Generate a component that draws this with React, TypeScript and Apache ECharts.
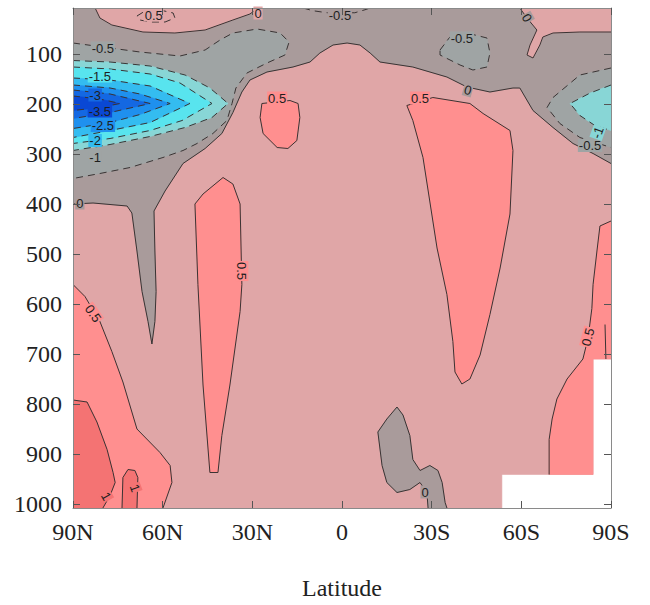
import React, { useEffect, useRef } from "react";
import * as echarts from "echarts";

// ---- axes ----
const latTicks = [-90, -60, -30, 0, 30, 60, 90];
const pressureTicks = [100, 200, 300, 400, 500, 600, 700, 800, 900, 1000];
const P_TOP = 8;
const P_BOT = 1008;

// ---- data coverage (outside it: missing data, left white) ----
const dataRegion = [[-90,P_TOP],[90,P_TOP],[90,710],[84,710],[84,941],[53.5,941],[53.5,P_BOT],[-90,P_BOT]];

// ---- contour lines, [latitude (neg = N, pos = S), pressure hPa] ----
// lower boundary (0 contour) of the upper negative band
const zeroBandLower = [[-90,400],[-83.3,398],[-71.9,404],[-70.3,418],[-68.6,494],[-66.9,575],[-64.9,635],[-63.6,680],[-62.6,635],[-62.2,575],[-62.6,494],[-62.9,414],[-59.2,374],[-53.2,319],[-45.8,289],[-40.2,259],[-36.5,217],[-33.5,176],[-30.8,152],[-25.1,136],[-16.4,126],[-10.7,116],[-7.4,98],[-3,82],[1.7,78],[6,82],[9.4,98],[12.7,116],[23.7,126],[35.1,146],[41.8,166],[49.5,176],[57.2,168],[59.5,168],[63.9,213],[70.6,247],[77.3,279],[84,299],[90,319]];
const topLeftPos = [[-82.6,8],[-81,28],[-77,42],[-66.6,56],[-55.9,58],[-45.8,52],[-36.5,32],[-30.8,20],[-28.1,8]];
const topRightPos = [[59.5,8],[61.9,28],[65.2,52],[62.9,82],[61.9,102],[63.9,108],[66.2,82],[67.2,66],[70.6,58],[79.6,56],[90,56]];
const topCenterDash = [[-13,8],[-9.7,13.5],[-5,17.5],[4.3,17.5],[7.7,11.5],[9.4,8]];
const topLeftOval = [[-68.6,24],[-65.9,14],[-60.9,12],[-56.5,18],[-55.9,28],[-59.2,36],[-64.2,36],[-67.6,32]];
const coolLeft = [[-90,78],[-80,86],[-67.6,96],[-54.2,104],[-45.8,92],[-40.8,72],[-36.5,58],[-28.4,50],[-20.7,58],[-17.7,76],[-19.1,102],[-25.1,118],[-31.8,138],[-35.5,168],[-36.8,199],[-38.5,233],[-43.2,259],[-48.5,279],[-53.2,293],[-59.9,307],[-70.9,327],[-81,339],[-90,349]];
const jetM1 = [[-90,113],[-77.6,116],[-64.2,124],[-52.5,142],[-44.2,168],[-38.1,199],[-43.5,227],[-52.5,247],[-64.2,265],[-77.6,281],[-90,293]];
const jetM15 = [[-90,126],[-77.6,130],[-64.2,140],[-54.2,158],[-43.5,199],[-53.5,233],[-64.2,253],[-77.6,269],[-90,279]];
const jetM2 = [[-90,148],[-77.6,152],[-64.2,164],[-50.9,199],[-64.2,237],[-77.6,253],[-90,267]];
const jetM25 = [[-90,162],[-77.6,168],[-67.6,180],[-57.5,199],[-67.6,221],[-77.6,237],[-90,249]];
const jetM3 = [[-90,172],[-77.6,180],[-64.2,199],[-77.6,217],[-90,229]];
const jetM35 = [[-90,184],[-81,190],[-74.3,199],[-81,207],[-90,213]];
const rightBlob = [[32.8,92],[36.1,66],[41.8,58],[48.5,68],[49.5,98],[48.5,126],[43.8,132],[39.5,122],[32.8,102]];
const rightJetCool = [[90,128],[79.6,142],[70.6,187],[68.6,207],[72.9,239],[79.6,267],[90,287]];
const rightJetCyan = [[90,162],[83,178],[76.3,199],[79.6,223],[84.6,243],[90,253]];
const posSmall = [[-26.8,199],[-27.4,227],[-26.4,259],[-21.7,287],[-18.1,289],[-15.1,273],[-14.1,227],[-14.7,199],[-17.4,193]];
const posBig = [[21.7,203],[30.4,187],[42.8,199],[47.2,219],[56.2,253],[57.2,293],[56.2,420],[52.9,528],[49.5,621],[46.2,702],[42.8,750],[40.1,760],[37.8,736],[37.1,675],[35.1,581],[31.8,488],[27.1,307],[23.7,233]];
const posNarrow = [[-46.5,380],[-39.8,347],[-36.5,360],[-34.1,400],[-33.5,561],[-34.1,615],[-37.5,762],[-40.2,863],[-41.5,937],[-44.2,937],[-46.5,762],[-48.2,561],[-49.2,400]];
const posLeftLower = [[-90,561],[-86,585],[-81,635],[-77,695],[-73.3,756],[-68.6,850],[-60.9,897],[-57.5,923],[-56.9,957],[-59.9,1008]];
const oneCorner = [[-90,792],[-85.3,796],[-82,836],[-78.6,891],[-76.6,937],[-75.9,957],[-77.6,983],[-80,1008]];
const oneNarrow = [[-73.6,1008],[-73.3,947],[-71.6,931],[-69.3,933],[-68.3,947],[-68.6,1008]];
const posRightLower = [[90,434],[86.3,444],[85.3,494],[84,561],[83.6,609],[82.3,669],[80.6,710],[75.3,750],[71.9,790],[70.3,830],[69.3,871],[69.3,941]];
const negBottom = [[28.8,1008],[28.4,977],[26.1,957],[22.7,971],[18.4,977],[15,957],[13.4,923],[12,856],[15,830],[18.4,806],[20.4,822],[22.7,863],[23.7,911],[26.1,933],[29.4,923],[32.1,933],[33.5,957],[34.5,997],[35.1,1008]];
const rightShortLine = [[88,641],[88.3,710]];

// contour labels: text, lat, p, rotation (deg)
const labelTexts = ["0.5","0","-0.5","0","-0.5","-1.5","-3","-3.5","-2.5","-2","-1","0","0.5","0.5","0","-0.5","-0.5","-1","0.5","0.5","1","1","0","0.5"];
const labelLat = [-63,-28.1,-0.7,61.9,-80,-81,-82.6,-81,-80,-82.6,-82.6,-87.7,-21.7,26.1,42.1,40.1,83,85.6,-33.5,-83.3,-78.9,-69.3,27.8,82.3];
const labelP = [22,18,22,28,88,144,182,214,243,273,307,398,188,188,172,68,283,257,534,619,985,968,976,666];
const labelRot = [0,0,0,-60,0,0,0,0,0,0,0,0,0,0,-15,0,0,70,-90,-55,-60,-70,0,75];

// ---- styling ----
const COL = {
  base: "#e0a6a7",
  pos: "#ff8f8f",
  pos1: "#f47373",
  gray: "#a99b9b",
  cool: "#9fa4a4",
  cyan1: "#88d6d6",
  cyan2: "#58e4ee",
  cyan3: "#34bcf0",
  blue1: "#1f90ee",
  blue2: "#1468e2",
  blue3: "#0a48d4",
};
const LINE = "#3a3333";
const labelBg = [COL.base,COL.base,COL.gray,COL.gray,COL.cool,COL.cyan2,COL.blue2,COL.blue3,COL.blue1,COL.cyan3,COL.cool,COL.gray,COL.pos,COL.pos,COL.gray,COL.cool,COL.cool,COL.cyan1,COL.pos,COL.pos,COL.pos1,COL.pos1,COL.gray,COL.pos];

type Layer = { line: number[][]; close?: number[][]; fill?: string; dash?: boolean; loop?: boolean; noLine?: boolean };

const layers: Layer[] = [
  { line: dataRegion, fill: COL.base, noLine: true },
  { line: zeroBandLower, close: [[90, P_TOP], [-90, P_TOP]], fill: COL.gray },
  { line: topLeftPos, fill: COL.base },
  { line: topRightPos, close: [[90, P_TOP]], fill: COL.base },
  { line: topCenterDash, dash: true },
  { line: topLeftOval, dash: true, loop: true },
  { line: coolLeft, fill: COL.cool, dash: true },
  { line: jetM1, fill: COL.cyan1, dash: true },
  { line: jetM15, fill: COL.cyan2, dash: true },
  { line: jetM2, fill: COL.cyan3, dash: true },
  { line: jetM25, fill: COL.blue1, dash: true },
  { line: jetM3, fill: COL.blue2, dash: true },
  { line: jetM35, fill: COL.blue3, dash: true },
  { line: rightBlob, fill: COL.cool, dash: true, loop: true },
  { line: rightJetCool, fill: COL.cool, dash: true },
  { line: rightJetCyan, fill: COL.cyan1, dash: true },
  { line: posSmall, fill: COL.pos, loop: true },
  { line: posBig, fill: COL.pos, loop: true },
  { line: posNarrow, fill: COL.pos, loop: true },
  { line: posLeftLower, close: [[-90, P_BOT]], fill: COL.pos },
  { line: oneCorner, close: [[-90, P_BOT]], fill: COL.pos1 },
  { line: oneNarrow, fill: COL.pos1 },
  { line: posRightLower, close: [[84, 941], [84, 710], [90, 710]], fill: COL.pos },
  { line: negBottom, fill: COL.gray },
  { line: rightShortLine },
];
const fillLayers = layers.filter((l) => l.fill);
const lineLayers = layers.filter((l) => !l.noLine);

const latLabel = (v: number) => (v < 0 ? `${-v}N` : v > 0 ? `${v}S` : "0");
const SERIF = "'Liberation Serif', 'Times New Roman', serif";

export default function App() {
  const ref = useRef<HTMLDivElement>(null);
  useEffect(() => {
    document.body.style.margin = "0";
    if (!ref.current) return;
    const chart = echarts.init(ref.current, null, { renderer: "svg" });
    const axisCommon = {
      type: "value" as const,
      z: 10,
      axisLine: { show: true, onZero: false, lineStyle: { color: "#8a8a8a", width: 1 } },
      axisTick: { show: true, inside: true, length: 7, lineStyle: { color: "#555" } },
      splitLine: { show: false },
    };
    chart.setOption({
      animation: false,
      backgroundColor: "#ffffff",
      grid: {
        left: 73, top: 8, width: 538, height: 500,
        show: false,
        outerBoundsMode: "none",
      },
      xAxis: [
        {
          ...axisCommon,
          position: "bottom",
          min: latTicks[0], max: latTicks[latTicks.length - 1], interval: 30,
          axisLabel: { formatter: latLabel, fontFamily: SERIF, fontSize: 24, color: "#222", margin: 12 },
          name: "Latitude",
          nameLocation: "middle",
          nameGap: 68,
          nameTextStyle: { fontFamily: SERIF, fontSize: 24, color: "#222" },
        },
        {
          ...axisCommon,
          position: "top",
          min: latTicks[0], max: latTicks[latTicks.length - 1], interval: 30,
          axisLabel: { show: false },
        },
      ],
      yAxis: [
        {
          ...axisCommon,
          position: "left",
          inverse: true,
          min: P_TOP, max: P_BOT,
          axisTick: { ...axisCommon.axisTick, customValues: pressureTicks },
          axisLabel: {
            customValues: pressureTicks,
            formatter: (v: number) => String(v),
            fontFamily: SERIF, fontSize: 24, color: "#222", margin: 11,
          },
        },
        {
          ...axisCommon,
          position: "right",
          inverse: true,
          min: P_TOP, max: P_BOT,
          axisTick: { ...axisCommon.axisTick, customValues: pressureTicks },
          axisLabel: { show: false, customValues: pressureTicks },
        },
      ],
      series: [
        {
          type: "custom",
          name: "fills",
          z: 2,
          clip: true,
          silent: true,
          data: fillLayers.map((_, i) => [0, 500, i]),
          renderItem: (params: any, api: any) => {
            const L = fillLayers[params.dataIndex];
            const pts = [...L.line, ...(L.close || [])].map((p) => api.coord(p));
            return {
              type: "polygon",
              shape: { points: pts },
              style: { fill: L.fill, stroke: L.fill, lineWidth: 0.6 },
            };
          },
        },
        {
          type: "custom",
          name: "lines",
          z: 3,
          clip: true,
          silent: true,
          data: lineLayers.map((_, i) => [0, 500, i]),
          renderItem: (params: any, api: any) => {
            const L = lineLayers[params.dataIndex];
            let pts = L.line.map((p) => api.coord(p));
            if (L.loop) pts = [...pts, pts[0]];
            return {
              type: "polyline",
              shape: { points: pts },
              style: { fill: "none", stroke: LINE, lineWidth: 1, lineDash: L.dash ? [7, 5] : null },
            };
          },
        },
        {
          type: "custom",
          name: "labels",
          z: 5,
          silent: true,
          data: labelTexts.map((_, i) => [labelLat[i], labelP[i], i]),
          renderItem: (params: any, api: any) => {
            const i = params.dataIndex;
            const c = api.coord([labelLat[i], labelP[i]]);
            return {
              type: "text",
              x: c[0],
              y: c[1],
              rotation: (labelRot[i] * Math.PI) / 180,
              style: {
                text: labelTexts[i],
                fill: "#1e1e1e",
                fontSize: 13,
                fontFamily: "'Liberation Sans', Arial, sans-serif",
                align: "center",
                verticalAlign: "middle",
                backgroundColor: labelBg[i],
                padding: [0, 1],
              },
            };
          },
        },
      ],
    });
    return () => chart.dispose();
  }, []);
  return <div ref={ref} style={{ width: 650, height: 605 }} />;
}
